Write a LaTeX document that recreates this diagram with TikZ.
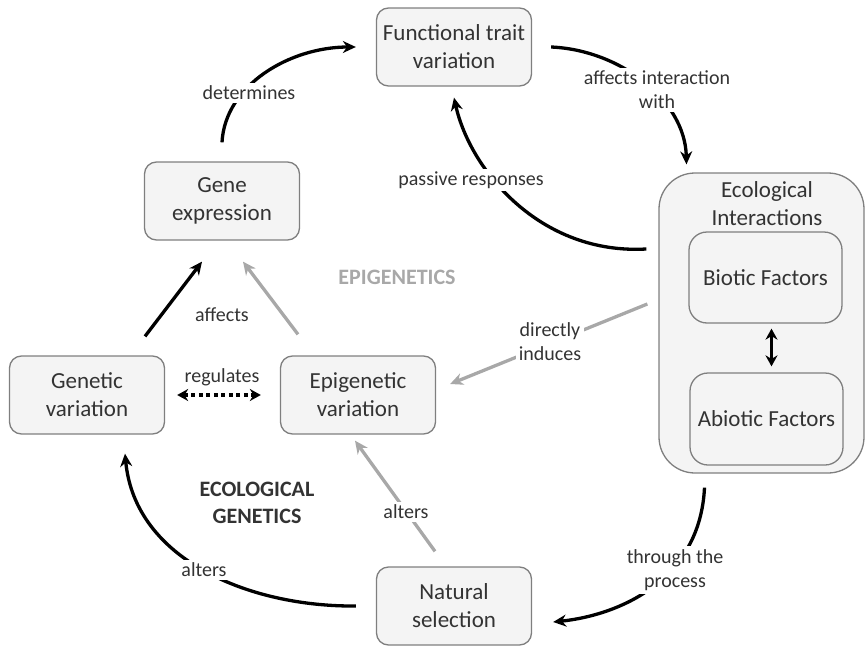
\documentclass[tikz,border=0pt]{standalone}
\usepackage{fontspec}
\setmainfont{Carlito}
\usetikzlibrary{arrows.meta}
\definecolor{boxline}{HTML}{7F7F7F}
\definecolor{boxfill}{HTML}{F4F4F4}
\definecolor{txt}{HTML}{333333}
\definecolor{grayarr}{HTML}{A8A8A8}
\newcommand\bxfont{\fontsize{23}{28}\selectfont}
\newcommand\lbfont{\fontsize{20}{24}\selectfont}
\newcommand\ttlfont{\fontsize{22}{27}\selectfont\bfseries}
\begin{document}
\begin{tikzpicture}[x=1pt,y=-1pt,
  box/.style={draw=boxline, fill=boxfill, rounded corners=12pt, line width=1.3pt,
    minimum width=155pt, minimum height=78pt, align=center, font=\bxfont, text=txt, inner sep=0pt},
  lbl/.style={font=\lbfont, text=txt, align=center, fill=white, inner sep=3pt},
  arr/.style={line width=3.3pt, -{Stealth[length=13pt,width=12pt]}},
  garr/.style={arr, draw=grayarr},
  ttl/.style={font=\ttlfont, align=center}]
\useasboundingbox (0,0) rectangle (865,648);
% boxes
\node[box] (func) at (454,47) {Functional trait\\variation};
\node[box] (gene) at (222,201) {Gene\\expression};
\node[box] (gen) at (87,395) {Genetic\\variation};
\node[box] (epi) at (358,395) {Epigenetic\\variation};
\node[box] (nat) at (454,606) {Natural\\selection};
\node[box, minimum width=205pt, minimum height=300pt, rounded corners=36pt] (eco) at (761.5,323) {};
\node[font=\bxfont, text=txt, align=center, inner sep=0pt] (ecot) at (767,204) {Ecological\\Interactions};
\node[box, minimum width=153pt, minimum height=91pt, rounded corners=18pt] (bio) at (765.5,277.5) {Biotic Factors};
\node[box, minimum width=153pt, minimum height=92pt, rounded corners=18pt] (abio) at (766.5,419) {Abiotic Factors};
% titles
\node[ttl, text=grayarr] (tepi) at (397,277) {EPIGENETICS};
\node[ttl, text=txt] (teco) at (257,503) {ECOLOGICAL\\GENETICS};
% arrows
\draw[arr] ([yshift=19pt]gene.north) .. controls (225,85) and (290,47) .. ([xshift=-20pt]func.west);
\draw[arr] ([xshift=19pt]func.east) .. controls (620,50) and (685,100) .. ([xshift=-75pt,yshift=8pt]eco.north);
\draw[arr] ([xshift=-12pt,yshift=74pt]eco.west) .. controls (540,255) and (470,170) .. ([yshift=-11pt]func.south);
\draw[garr] ([xshift=-11pt,yshift=19pt]eco.west) -- ([xshift=14pt,yshift=11pt]epi.east);
\draw[arr] ([xshift=-57pt,yshift=-14pt]eco.south) .. controls (700,580) and (620,615) .. ([xshift=21pt,yshift=-16pt]nat.east);
\draw[arr] ([xshift=-20pt]nat.west) .. controls (250,607) and (135,560) .. ([xshift=38pt,yshift=-19pt]gen.south);
\draw[garr] ([xshift=-19pt,yshift=15pt]nat.north) -- ([xshift=-3pt,yshift=-6pt]epi.south);
\draw[arr] ([xshift=58pt,yshift=19pt]gen.north) -- ([xshift=-20pt,yshift=-21pt]gene.south);
\draw[garr] ([xshift=-60pt,yshift=21pt]epi.north) -- ([xshift=21pt,yshift=-21pt]gene.south);
\draw[line width=3.6pt, dash pattern=on 4pt off 3.5pt, {Stealth[length=11pt,width=12pt]}-{Stealth[length=11pt,width=12pt]}] ([xshift=12pt]gen.east) -- ([xshift=-19pt]epi.west);
\draw[line width=3.3pt, {Stealth[length=11pt,width=12pt]}-{Stealth[length=11pt,width=12pt]}] ([xshift=6pt,yshift=-5pt]bio.south) -- ([xshift=5pt,yshift=6pt]abio.north);
% labels
\node[lbl] (ldet) at (249,93) {determines};
\node[lbl] (laff) at (657,90) {affects interaction\\with};
\node[lbl] (lpas) at (471,180) {passive responses};
\node[lbl] (ldir) at (550,342) {directly\\induces};
\node[lbl] (lthr) at (675,570) {through the\\process};
\node[lbl] (lalt) at (204,570) {alters};
\node[lbl] (lalg) at (406,512) {alters};
\node[lbl, fill=none] (laffe) at (222,315) {affects};
\node[lbl, fill=none] (lreg) at (222,377) {regulates};
\end{tikzpicture}
\end{document}
